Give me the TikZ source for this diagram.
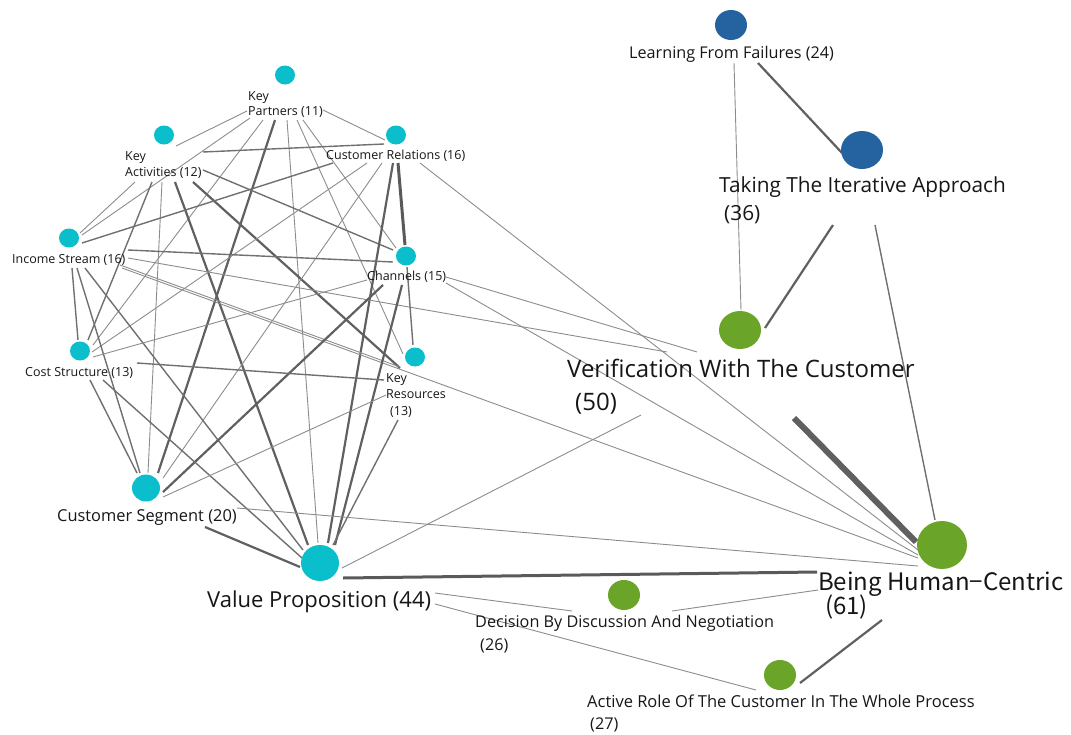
\documentclass[tikz,border=0pt]{standalone}
\usepackage{fontspec}
\setmainfont{Open Sans}
\newfontfamily\jpfont{Noto Sans CJK JP}
\usetikzlibrary{shapes.geometric,backgrounds}
\definecolor{cyanN}{RGB}{11,190,204}
\definecolor{blueN}{RGB}{36,99,160}
\definecolor{greenN}{RGB}{106,164,41}
\definecolor{txt}{RGB}{22,22,22}
\definecolor{lnA}{RGB}{140,140,140}
\definecolor{lnB}{RGB}{112,112,112}
\definecolor{lnC}{RGB}{96,96,96}
\definecolor{lnD}{RGB}{90,90,90}
\tikzset{
  dot/.style={ellipse, inner sep=0pt, draw=none},
  sdot/.style={dot, fill=cyanN, minimum width=20pt, minimum height=19pt},
  lab/.style={anchor=base west, inner sep=0pt, text=txt},
  fs/.style={font=\fontsize{12.5}{15}\selectfont},
  fm/.style={font=\fontsize{16.2}{19}\selectfont},
  eA/.style={draw=lnA, line width=0.9pt},
  eB/.style={draw=lnB, line width=1.4pt},
  eC/.style={draw=lnC, line width=2.2pt},
  eD/.style={draw=lnD, line width=3pt},
  eE/.style={draw=lnC, line width=6pt},
}
\newcommand\lnk[5]{\draw[#1] ([shift={#3}]#2.center) -- ([shift={#5}]#4.center);}
\begin{document}
\begin{tikzpicture}[x=1pt,y=-1pt]
\path[use as bounding box] (0,0) rectangle (1071,734);
% nodes (circles)
\node[sdot] (kp) at (285,75) {};
\node[sdot] (ka) at (164,135) {};
\node[sdot] (cr) at (396,135) {};
\node[sdot] (is) at (69,238) {};
\node[sdot] (ch) at (406,256) {};
\node[sdot] (cs) at (80,351) {};
\node[sdot] (kr) at (415,357) {};
\node[dot, fill=cyanN, minimum width=28pt, minimum height=27pt] (sg) at (146,488) {};
\node[dot, fill=cyanN, minimum width=38pt, minimum height=36pt] (vp) at (320,563) {};
\node[dot, fill=blueN, minimum width=32pt, minimum height=30pt] (lf) at (731,25) {};
\node[dot, fill=blueN, minimum width=42pt, minimum height=38pt] (ta) at (862,150) {};
\node[dot, fill=greenN, minimum width=42pt, minimum height=38pt] (ve) at (740,330) {};
\node[dot, fill=greenN, minimum width=50pt, minimum height=48pt] (hc) at (942,545) {};
\node[dot, fill=greenN, minimum width=32pt, minimum height=30pt] (dd) at (624,595) {};
\node[dot, fill=greenN, minimum width=32pt, minimum height=30pt] (ar) at (780,675) {};
% connectors
\begin{scope}[on background layer]
\lnk{eA}{kp}{(-38,36)}{ka}{(12,11)}
\lnk{eA}{kp}{(-35,43)}{is}{(13,-3)}
\lnk{eA}{kp}{(-22,45)}{cs}{(13,-6)}
\lnk{eC}{kp}{(-10,45)}{sg}{(12,-15)}
\lnk{eA}{kp}{(2,45)}{vp}{(-2,-20)}
\lnk{eA}{kp}{(12,45)}{kr}{(-12,-3)}
\lnk{eA}{kp}{(18,45)}{ch}{(-10,-8)}
\lnk{eA}{kp}{(38,35)}{cr}{(-11,5)}
\lnk{eB}{ka}{(39,17)}{cr}{(-12,9)}
\lnk{eA}{ka}{(-29,47)}{is}{(11,-5)}
\lnk{eB}{ka}{(-12,47)}{cs}{(8,-11)}
\lnk{eA}{ka}{(-2,47)}{sg}{(2,-15)}
\lnk{eC}{ka}{(11,47)}{vp}{(-12,-18)}
\lnk{eB}{ka}{(39,35)}{ch}{(-13,-6)}
\lnk{eC}{ka}{(29,47)}{kr}{(-15,11)}
\lnk{eB}{cr}{(-63,28)}{is}{(13,5)}
\lnk{eA}{cr}{(-29,28)}{cs}{(12,1)}
\lnk{eA}{cr}{(-14,28)}{sg}{(17,-10)}
\lnk{eC}{cr}{(-3,28)}{vp}{(8,-20)}
\lnk{eD}{cr}{(2,28)}{ch}{(-1,-11)}
\lnk{eA}{cr}{(24,28)}{hc}{(-24,5)}
\lnk{eB}{is}{(59,12)}{ch}{(-13,6)}
\lnk{eA}{is}{(59,20)}{ve}{(-73,22)}
\lnk{eA}{is}{(51,27)}{kr}{(-15,10)}
\lnk{eA}{is}{(53,30)}{hc}{(-24,13)}
\lnk{eB}{is}{(3,30)}{cs}{(-2,-11)}
\lnk{eB}{is}{(8,30)}{sg}{(-6,-15)}
\lnk{eB}{is}{(16,30)}{vp}{(-17,-13)}
\lnk{eA}{ch}{(40,21)}{ve}{(-43,22)}
\lnk{eA}{ch}{(40,27)}{hc}{(-24,10)}
\lnk{eC}{ch}{(-4,29)}{vp}{(15,-18)}
\lnk{eC}{ch}{(-23,29)}{sg}{(17,4)}
\lnk{eA}{ch}{(-39,24)}{cs}{(13,6)}
\lnk{eB}{ch}{(1,11)}{kr}{(-2,-12)}
\lnk{eB}{cs}{(57,12)}{kr}{(-31,23)}
\lnk{eB}{cs}{(10,29)}{sg}{(-9,-15)}
\lnk{eB}{cs}{(23,29)}{vp}{(-18,-5)}
\lnk{eA}{kr}{(-29,38)}{sg}{(17,9)}
\lnk{eB}{kr}{(-17,63)}{vp}{(13,-18)}
\lnk{eC}{sg}{(59,39)}{vp}{(-20,4)}
\lnk{eA}{sg}{(91,20)}{hc}{(-24,21)}
\lnk{eA}{vp}{(22,5)}{ve}{(-99,85)}
\lnk{eD}{vp}{(23,15)}{hc}{(-125,27)}
\lnk{eA}{vp}{(115,30)}{dd}{(-52,16)}
\lnk{eA}{vp}{(115,41)}{ar}{(-24,15)}
\lnk{eA}{dd}{(48,16)}{hc}{(-124,45)}
\lnk{eC}{ar}{(20,8)}{hc}{(-60,75)}
\lnk{eE}{ve}{(54,88)}{hc}{(-26,-3)}
\lnk{eB}{ta}{(13,75)}{hc}{(-7,-25)}
\lnk{eC}{ta}{(-29,75)}{ve}{(25,-2)}
\lnk{eC}{lf}{(27,38)}{ta}{(-20,3)}
\lnk{eA}{lf}{(3,38)}{ve}{(1,-20)}
\end{scope}
% labels
\node[lab,fs] (kpl1) at (248,100) {Key};
\node[lab,fs] (kpl2) at (248,115) {Partners (11)};
\node[lab,fs] (kal1) at (125,160) {Key};
\node[lab,fs] (kal2) at (125,176) {Activities (12)};
\node[lab,fs] (crl) at (326,159) {Customer Relations (16)};
\node[lab,fs] (isl) at (12,263) {Income Stream (16)};
\node[lab,fs] (chl) at (367,280) {Channels (15)};
\node[lab,fs] (csl) at (25,376) {Cost Structure (13)};
\node[lab,fs] (krl1) at (386,382) {Key};
\node[lab,fs] (krl2) at (386,398) {Resources};
\node[lab,fs] (krl3) at (390,415) {(13)};
\node[lab,font=\fontsize{16.4}{19}\selectfont] (sgl) at (57,521) {Customer Segment (20)};
\node[lab,font=\fontsize{22}{26}\selectfont] (vpl) at (207,607) {Value Proposition (44)};
\node[lab,fm] (lfl) at (629,58) {Learning From Failures (24)};
\node[lab,font=\fontsize{20.8}{24}\selectfont] (tal1) at (719,192) {Taking The Iterative Approach};
\node[lab,font=\fontsize{20.8}{24}\selectfont] (tal2) at (724,220) {(36)};
\node[lab,font=\fontsize{24}{28}\selectfont] (vel1) at (567,377) {Verification With The Customer};
\node[lab,font=\fontsize{24}{28}\selectfont] (vel2) at (575,410) {(50)};
\node[lab,font=\jpfont\fontsize{24}{28}\selectfont] (hcl1) at (818,590) {Being Human−Centric};
\node[lab,font=\jpfont\fontsize{24}{28}\selectfont] (hcl2) at (825,614) {(61)};
\node[lab,fm] (ddl1) at (475,627) {Decision By Discussion And Negotiation};
\node[lab,fm] (ddl2) at (480,650) {(26)};
\node[lab,font=\fontsize{16.5}{19}\selectfont] (arl1) at (587,707) {Active Role Of The Customer In The Whole Process};
\node[lab,fm] (arl2) at (590,729) {(27)};
\end{tikzpicture}
\end{document}
